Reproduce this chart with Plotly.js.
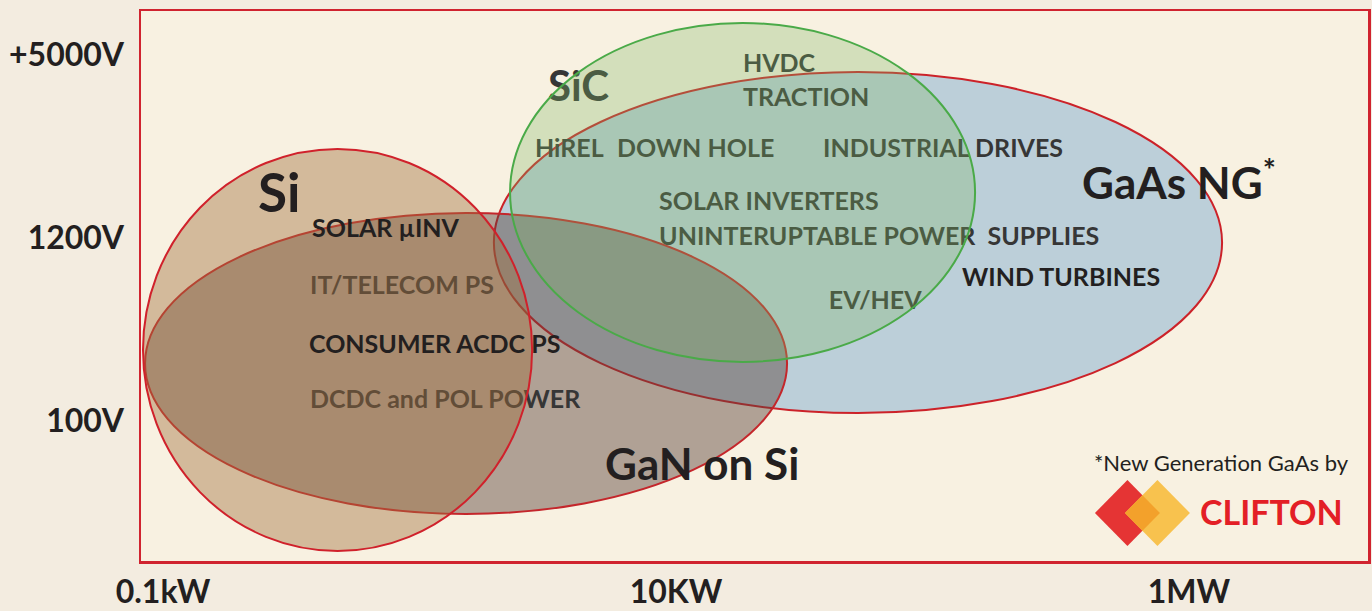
<!DOCTYPE html>
<html>
<head>
<meta charset="utf-8">
<script src="https://cdn.plot.ly/plotly-3.0.1.min.js"></script>
<style>html,body{margin:0;padding:0;background:#f3ece0;}#chart{width:1372px;height:611px;}</style>
</head>
<body>
<div id="chart"></div>
<script>
// Axis ticks (x in log10 kW, y in voltage class levels)
const powerTickVals = [-1, 1, 3];
const powerTickText = ['0.1kW', '10KW', '1MW'];
const voltTickVals = [1, 2, 3];
const voltTickText = ['100V', '1200V', '+5000V'];

// Technology regions (ellipse extents)
const techNames = ['GaAs NG', 'GaN on Si', 'Si', 'SiC'];
const powerMin = [0.290, -1.070, -1.078, 0.353];
const powerMax = [3.129, 1.433, 0.439, 2.166];
const voltMin = [1.042, 0.490, 0.288, 1.321];
const voltMax = [2.905, 2.135, 2.485, 3.173];

// Application labels lying beneath the translucent regions
const underLabels = ['SiC', 'HVDC', 'TRACTION', 'HiREL', 'DOWN HOLE', 'INDUSTRIAL DRIVES',
  'SOLAR INVERTERS', 'UNINTERUPTABLE POWER\u00a0\u00a0SUPPLIES', 'EV/HEV', 'IT/TELECOM PS', 'DCDC and POL POWER'];
const underX = [0.501, 1.261, 1.261, 0.450, 0.770, 1.573, 0.934, 0.934, 1.596, -0.427, -0.427];
const underY = [2.805, 2.940, 2.752, 2.473, 2.473, 2.473, 2.183, 1.992, 1.642, 1.724, 1.101];

// Labels drawn on top
const topLabels = ['Si', 'SOLAR \u00b5INV', 'CONSUMER ACDC PS', 'WIND TURBINES', 'GaAs NG<sup>*</sup>', 'GaN on Si'];
const topX = [-0.637, -0.427, -0.437, 2.107, 2.575, 0.715];
const topY = [2.250, 2.058, 1.424, 1.790, 2.320, 0.770];

// Footnote / logo
const noteText = '*New Generation GaAs by';
const noteX = 2.622, noteY = 0.769;
const logoText = 'CLIFTON';
const logoX = 3.035, logoY = 0.506;
const markX = 2.760, markY = 0.4955;

// ---- styles ----
const FONT = 'Lato, "Open Sans", sans-serif';
const INK = '#231f20';
const UNDER_INK = '#363636';
const fillColors = ['rgba(128,173,209,0.5)', 'rgba(88,65,58,0.45)', 'rgba(160,110,60,0.42)', 'rgba(125,181,98,0.3)'];
const lineColors = ['#cc2229', '#c4262b', '#d0212b', '#4aaa48'];
const layers = ['below', 'below', 'above', 'above'];
const underSizes = underLabels.map(t => t === 'SiC' ? 42 : 25);
const topSizes = [53, 25, 25, 25, 44, 44];

const shapes = techNames.map((n, i) => ({
  type: 'circle', xref: 'x', yref: 'y',
  x0: powerMin[i], x1: powerMax[i], y0: voltMin[i], y1: voltMax[i],
  fillcolor: fillColors[i], line: {color: lineColors[i], width: 2}, layer: layers[i]
}));

shapes.push(
  {type: 'path', xref: 'x', yref: 'y', xsizemode: 'pixel', ysizemode: 'pixel', xanchor: markX, yanchor: markY,
   path: 'M-32.5,0 L0,33 L32.5,0 L0,-33 Z', fillcolor: '#e53434', line: {width: 0}, layer: 'above'},
  {type: 'path', xref: 'x', yref: 'y', xsizemode: 'pixel', ysizemode: 'pixel', xanchor: markX, yanchor: markY,
   path: 'M-2.5,0 L30,33 L62.5,0 L30,-33 Z', fillcolor: '#f8c24e', line: {width: 0}, layer: 'above'},
  {type: 'path', xref: 'x', yref: 'y', xsizemode: 'pixel', ysizemode: 'pixel', xanchor: markX, yanchor: markY,
   path: 'M-2.5,0 L15,17.77 L32.5,0 L15,-17.77 Z', fillcolor: '#f3a12b', line: {width: 0}, layer: 'above'}
);

const annotations = topLabels.map((t, i) => ({
  x: topX[i], y: topY[i], xref: 'x', yref: 'y', text: t, showarrow: false,
  xanchor: 'left', yanchor: 'middle',
  font: {family: FONT, size: topSizes[i], color: INK, weight: 'bold'}
}));
annotations.push(
  {x: noteX, y: noteY, xref: 'x', yref: 'y', text: noteText, showarrow: false, xanchor: 'left', yanchor: 'middle',
   font: {family: FONT, size: 22, color: INK}},
  {x: logoX, y: logoY, xref: 'x', yref: 'y', text: logoText, showarrow: false, xanchor: 'left', yanchor: 'middle',
   font: {family: FONT, size: 34, color: '#e31f26', weight: 'bold'}}
);

const traces = [{
  type: 'scatter', mode: 'text', x: underX, y: underY, text: underLabels,
  textposition: 'middle right', hoverinfo: 'skip', showlegend: false,
  textfont: {family: FONT, size: underSizes, color: UNDER_INK, weight: 'bold'}
}];

const axisCommon = {
  showgrid: false, zeroline: false, showline: true, mirror: true,
  linecolor: '#d0232f', linewidth: 2.5, ticks: 'outside', tickcolor: 'rgba(0,0,0,0)',
  tickfont: {family: FONT, size: 32, color: INK, weight: 'bold'}, fixedrange: true
};

const layout = {
  width: 1372, height: 611,
  margin: {l: 141, r: 4, t: 11, b: 50},
  paper_bgcolor: '#f3ece0', plot_bgcolor: '#f8f1e1',
  showlegend: false,
  xaxis: Object.assign({}, axisCommon, {range: [-1.0858, 3.6979], tickmode: 'array',
    tickvals: powerTickVals, ticktext: powerTickText, ticklen: 1}),
  yaxis: Object.assign({}, axisCommon, {range: [0.2332, 3.2386], tickmode: 'array',
    tickvals: voltTickVals, ticktext: voltTickText, ticklen: 8}),
  shapes: shapes,
  annotations: annotations
};

Plotly.newPlot('chart', traces, layout, {displayModeBar: false, staticPlot: true});
</script>
</body>
</html>
